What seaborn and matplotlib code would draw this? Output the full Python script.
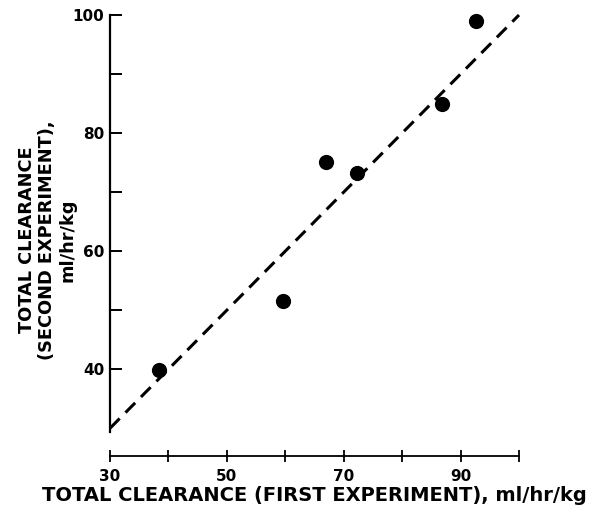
import matplotlib
matplotlib.use("Agg")
import matplotlib.pyplot as plt
import seaborn as sns
import pandas as pd

# data
first_exp = [38.4, 59.6, 67.0, 72.3, 86.8, 92.7]
second_exp = [39.8, 51.5, 75.1, 73.2, 84.9, 99.0]
identity_x = [30, 100]
identity_y = [30, 100]

x_ticks = [30, 40, 50, 60, 70, 80, 90, 100]
x_tick_labels = ["30", "", "50", "", "70", "", "90", ""]
y_ticks = [40, 50, 60, 70, 80, 90, 100]
y_tick_labels = ["40", "", "60", "", "80", "", "100"]

x_label = "TOTAL CLEARANCE (FIRST EXPERIMENT), ml/hr/kg"
y_label = "TOTAL CLEARANCE\n(SECOND EXPERIMENT),\nml/hr/kg"

sns.set_style("ticks")
plt.rcParams["font.family"] = ["DejaVu Sans"]
plt.rcParams["font.weight"] = "bold"
for k in ["text.color", "axes.labelcolor", "xtick.color", "ytick.color",
          "xtick.labelcolor", "ytick.labelcolor", "axes.edgecolor"]:
    plt.rcParams[k] = "black"

df = pd.DataFrame({"first": first_exp, "second": second_exp})
line_df = pd.DataFrame({"x": identity_x, "y": identity_y})

fig = plt.figure(figsize=(5.9, 5.11), dpi=100)
ax = fig.add_axes([110 / 590, 55 / 511, 409 / 590, 441 / 511])

sns.lineplot(data=line_df, x="x", y="y", ax=ax, color="black", lw=2.2,
             linestyle=(0, (4.5, 2.7)), clip_on=False)
sns.scatterplot(data=df, x="first", y="second", ax=ax, color="black",
                s=120, edgecolor="black", linewidth=0, clip_on=False, zorder=3)

ax.set_xlim(30, 100)
ax.set_ylim(25.3, 100)

ax.spines["top"].set_visible(False)
ax.spines["right"].set_visible(False)
ax.spines["left"].set_bounds(29.3, 100)
ax.spines["bottom"].set_bounds(30, 100)
ax.spines["left"].set_linewidth(1.6)
ax.spines["bottom"].set_linewidth(1.3)

ax.set_xticks(x_ticks)
ax.set_xticklabels(x_tick_labels, fontsize=11, fontweight="bold")
ax.set_yticks(y_ticks)
ax.set_yticklabels(y_tick_labels, fontsize=11, fontweight="bold")
ax.tick_params(axis="x", direction="inout", length=9, width=1.3, pad=5)
ax.tick_params(axis="y", direction="in", length=8.5, width=1.4, pad=4)

ax.set_xlabel(x_label, fontsize=14, fontweight="bold")
ax.xaxis.set_label_coords(0.5, -0.068)
ax.set_ylabel(y_label, fontsize=12.8, fontweight="bold", linespacing=1.15)
ax.yaxis.set_label_coords(-0.083, 0.49)

fig.savefig("out.png", dpi=100)
